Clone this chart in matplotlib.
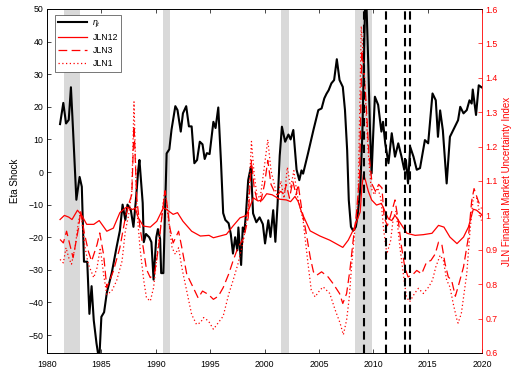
import numpy as np
import matplotlib
matplotlib.use('Agg')
import matplotlib.pyplot as plt

plt.rcParams['font.family'] = ['Liberation Sans', 'DejaVu Sans']
plt.rcParams['mathtext.fontset'] = 'custom'
plt.rcParams['mathtext.it'] = 'Liberation Sans:italic'

# eta shock (left axis)
eta_year = [1981.2, 1981.5, 1981.75, 1982.0, 1982.2, 1982.4, 1982.7, 1983.0, 1983.2, 1983.4,
            1983.7, 1983.9, 1984.1, 1984.3, 1984.55, 1984.8, 1985.0, 1985.25, 1985.5, 1985.95,
            1986.4, 1986.7, 1986.95, 1987.2, 1987.4, 1987.7, 1987.95, 1988.2, 1988.4, 1988.5,
            1988.8, 1988.9, 1989.1, 1989.4, 1989.6, 1989.8, 1990.05, 1990.2, 1990.4, 1990.5,
            1990.7, 1991.0, 1991.25, 1991.45, 1991.8, 1992.0, 1992.3, 1992.5, 1992.8, 1993.05,
            1993.3, 1993.55, 1993.8, 1994.05, 1994.3, 1994.5, 1994.7, 1994.95, 1995.3, 1995.5,
            1995.75, 1996.0, 1996.2, 1996.4, 1996.7, 1996.9, 1997.1, 1997.3, 1997.5, 1997.6,
            1997.85, 1998.0, 1998.15, 1998.3, 1998.5, 1998.75, 1998.95, 1999.25, 1999.55, 1999.85,
            2000.05, 2000.35, 2000.55, 2000.8, 2001.0, 2001.2, 2001.4, 2001.6, 2001.9, 2002.2,
            2002.4, 2002.65, 2002.95, 2003.2, 2003.4, 2003.55, 2004.0, 2004.5, 2004.95, 2005.25,
            2005.5, 2005.7, 2005.9, 2006.15, 2006.4, 2006.65, 2006.9, 2007.2, 2007.4, 2007.6,
            2007.75, 2007.95, 2008.15, 2008.4, 2008.55, 2008.8, 2009.0, 2009.2, 2009.3, 2009.55,
            2009.7, 2009.85, 2010.0, 2010.15, 2010.45, 2010.75, 2010.9, 2011.1, 2011.4, 2011.7,
            2012.0, 2012.3, 2012.6, 2012.85, 2013.0, 2013.2, 2013.4, 2013.7, 2014.0, 2014.3,
            2014.75, 2015.05, 2015.45, 2015.75, 2015.95, 2016.15, 2016.4, 2016.75, 2017.05, 2017.5,
            2017.8, 2018.0, 2018.3, 2018.6, 2018.85, 2019.05, 2019.15, 2019.45, 2019.7, 2019.95]
eta = [14.7, 21.2, 14.9, 16.0, 26.0, 12.5, -8.5, -1.5, -4.5, -27.5,
       -27.5, -43.5, -35.0, -45.5, -52.5, -58.0, -44.4, -43.0, -37.0, -31.0,
       -23.0, -18.0, -10.0, -14.7, -10.0, -11.5, -16.8, -7.6, 1.0, 3.7,
       -9.5, -21.5, -19.0, -20.0, -21.5, -33.0, -20.0, -17.5, -20.5, -31.0,
       -31.0, 5.7, 7.0, 13.0, 20.2, 19.0, 12.4, 18.0, 20.2, 14.0,
       14.0, 2.7, 3.7, 9.3, 8.5, 4.0, 5.8, 5.5, 15.4, 13.5,
       19.8, 3.0, -12.6, -14.7, -15.7, -19.0, -25.0, -20.0, -24.0, -17.0,
       -28.5, -17.0, -18.3, -12.6, -2.5, 1.6, -12.7, -15.4, -13.9, -16.0,
       -21.9, -14.8, -19.9, -11.7, -21.4, -10.0, 5.0, 13.9, 9.3, 11.5,
       10.0, 12.9, 0.7, -2.5, 0.5, -0.5, 5.7, 12.9, 19.0, 19.5,
       22.6, 24.0, 25.1, 27.2, 28.2, 34.6, 28.2, 26.1, 19.0, 6.7,
       -8.6, -16.8, -18.0, -16.8, -13.6, -5.5, 11.9, 42.6, 60.0, 32.3,
       13.0, -0.4, 11.9, 23.1, 20.6, 12.4, 15.4, 8.8, 2.7, 11.9,
       4.7, 8.8, 4.7, 0.7, 3.7, -3.5, 7.7, 4.7, 0.7, 1.2,
       9.8, 8.8, 24.1, 22.0, 10.8, 18.9, 12.8, -3.5, 10.8, 13.9,
       15.9, 20.0, 18.0, 19.0, 22.0, 21.0, 25.3, 17.5, 26.6, 26.0]

# JLN uncertainty, 12 month horizon (right axis)
jln12_year = [1981.2, 1981.6, 1982.0, 1982.3, 1982.8, 1983.2, 1983.65, 1984.3, 1984.8, 1985.5,
              1986.1, 1986.7, 1987.3, 1987.9, 1988.1, 1988.4, 1988.85, 1989.5, 1990.1, 1990.7,
              1991.0, 1991.6, 1992.0, 1992.5, 1993.3, 1994.1, 1994.9, 1995.3, 1995.9, 1996.5,
              1997.1, 1997.75, 1998.35, 1998.97, 1999.4, 1999.8, 2000.2, 2000.7, 2001.4, 2002.0,
              2002.4, 2002.8, 2003.1, 2003.4, 2004.2, 2005.1, 2006.0, 2007.2, 2007.7, 2008.2,
              2008.5, 2008.8, 2008.95, 2009.1, 2009.3, 2009.55, 2009.85, 2010.3, 2010.75, 2011.1,
              2011.4, 2011.7, 2012.0, 2012.5, 2013.1, 2013.85, 2014.6, 2015.4, 2016.0, 2016.5,
              2017.05, 2017.7, 2018.3, 2018.75, 2019.2, 2019.5, 2019.95]
jln12 = [0.988, 1.000, 0.995, 0.988, 1.015, 1.000, 0.974, 0.974, 0.985, 0.954,
         0.963, 1.008, 1.024, 1.017, 1.022, 0.993, 0.969, 0.966, 0.983, 1.022,
         1.017, 1.003, 1.008, 0.983, 0.954, 0.940, 0.942, 0.935, 0.940, 0.945,
         0.969, 0.993, 1.000, 1.051, 1.042, 1.045, 1.063, 1.060, 1.047, 1.045,
         1.040, 1.055, 1.040, 1.010, 0.955, 0.940, 0.928, 0.907, 0.928, 0.960,
         0.985, 1.010, 1.080, 1.120, 1.100, 1.070, 1.045, 1.030, 1.035, 1.010,
         0.990, 0.985, 1.000, 0.977, 0.948, 0.942, 0.944, 0.948, 0.971, 0.966,
         0.937, 0.918, 0.937, 0.966, 1.018, 1.015, 1.003]

# 3 month horizon
jln3_year = [1981.2, 1981.5, 1981.8, 1982.1, 1982.4, 1982.9, 1983.1, 1983.4, 1983.8, 1984.1,
             1984.6, 1984.85, 1985.2, 1985.5, 1986.1, 1986.7, 1987.2, 1987.5, 1987.8, 1988.0,
             1988.25, 1988.55, 1988.85, 1989.15, 1989.5, 1989.9, 1990.25, 1990.55, 1990.85, 1991.0,
             1991.3, 1991.6, 1992.1, 1992.4, 1992.85, 1993.45, 1993.9, 1994.3, 1994.85, 1995.3,
             1995.75, 1996.2, 1996.7, 1997.1, 1997.55, 1998.1, 1998.5, 1998.8, 1999.05, 1999.35,
             1999.65, 2000.0, 2000.3, 2000.6, 2000.9, 2001.2, 2001.5, 2001.8, 2002.0, 2002.3,
             2002.6, 2002.9, 2003.1, 2003.4, 2003.85, 2004.2, 2004.5, 2004.8, 2005.25, 2005.85,
             2006.3, 2006.9, 2007.2, 2007.55, 2007.85, 2008.15, 2008.45, 2008.75, 2008.95, 2009.3,
             2009.6, 2009.9, 2010.2, 2010.5, 2010.8, 2011.0, 2011.3, 2011.6, 2012.0, 2012.3,
             2012.6, 2012.9, 2013.2, 2013.7, 2014.0, 2014.45, 2014.9, 2015.3, 2015.7, 2016.0,
             2016.3, 2016.6, 2016.9, 2017.2, 2017.55, 2017.8, 2018.3, 2018.75, 2019.05, 2019.27,
             2019.65, 2019.95]
jln3 = [0.930, 0.920, 0.954, 0.915, 0.877, 0.964, 1.012, 0.954, 0.896, 0.867,
        0.915, 0.949, 0.887, 0.790, 0.838, 0.906, 0.993, 1.032, 1.061, 1.260,
        1.052, 0.964, 0.906, 0.843, 0.819, 0.833, 0.906, 0.993, 1.071, 1.042,
        0.964, 0.920, 0.954, 0.906, 0.829, 0.790, 0.760, 0.780, 0.770, 0.756,
        0.765, 0.790, 0.829, 0.867, 0.906, 0.935, 0.993, 1.160, 1.080, 1.040,
        1.040, 1.090, 1.160, 1.090, 1.070, 1.060, 1.070, 1.060, 1.090, 1.050,
        1.100, 1.060, 1.090, 1.023, 0.946, 0.879, 0.836, 0.826, 0.836, 0.821,
        0.802, 0.773, 0.744, 0.773, 0.840, 0.927, 1.004, 1.120, 1.480, 1.350,
        1.180, 1.090, 1.070, 1.090, 1.080, 0.994, 0.970, 1.000, 1.045, 0.985,
        0.908, 0.850, 0.821, 0.830, 0.840, 0.830, 0.864, 0.869, 0.888, 0.922,
        0.917, 0.860, 0.821, 0.812, 0.765, 0.792, 0.850, 0.937, 1.042, 1.078,
        1.042, 1.020]

# 1 month horizon
jln1_year = [1981.2, 1981.5, 1981.75, 1982.0, 1982.25, 1982.6, 1982.9, 1983.1, 1983.5, 1983.8,
             1984.3, 1984.6, 1984.9, 1985.2, 1985.5, 1985.95, 1986.4, 1986.9, 1987.2, 1987.5,
             1987.8, 1988.0, 1988.25, 1988.55, 1988.9, 1989.15, 1989.5, 1989.8, 1990.1, 1990.4,
             1990.7, 1990.85, 1991.15, 1991.5, 1991.8, 1992.1, 1992.4, 1992.85, 1993.3, 1993.75,
             1994.1, 1994.4, 1994.85, 1995.3, 1995.75, 1996.2, 1996.7, 1997.1, 1997.55, 1998.05,
             1998.5, 1998.8, 1999.05, 1999.3, 1999.6, 1999.9, 2000.3, 2000.6, 2000.9, 2001.2,
             2001.5, 2001.8, 2002.1, 2002.4, 2002.7, 2003.0, 2003.3, 2003.55, 2004.0, 2004.3,
             2004.65, 2005.1, 2005.4, 2006.0, 2006.5, 2006.95, 2007.25, 2007.55, 2007.8, 2008.0,
             2008.3, 2008.6, 2008.9, 2009.2, 2009.5, 2009.8, 2010.1, 2010.4, 2010.7, 2010.95,
             2011.25, 2011.6, 2011.85, 2012.1, 2012.45, 2012.8, 2013.05, 2013.35, 2013.8, 2014.15,
             2014.6, 2015.1, 2015.45, 2015.75, 2016.15, 2016.45, 2016.75, 2017.05, 2017.35, 2017.7,
             2017.8, 2018.1, 2018.6, 2018.9, 2019.2, 2019.5, 2019.8, 2019.95]
jln1 = [0.872, 0.862, 0.906, 0.877, 0.858, 0.910, 0.983, 1.012, 0.906, 0.858,
        0.819, 0.848, 0.906, 0.829, 0.770, 0.780, 0.810, 0.867, 0.954, 1.000,
        1.071, 1.330, 1.022, 0.906, 0.810, 0.760, 0.751, 0.790, 0.877, 0.954,
        1.042, 1.075, 0.993, 0.906, 0.887, 0.906, 0.848, 0.780, 0.712, 0.683,
        0.688, 0.703, 0.693, 0.669, 0.688, 0.707, 0.770, 0.810, 0.858, 0.925,
        1.022, 1.215, 1.120, 1.060, 1.050, 1.120, 1.220, 1.130, 1.090, 1.050,
        1.100, 1.050, 1.140, 1.080, 1.130, 1.060, 1.020, 0.985, 0.860, 0.783,
        0.763, 0.783, 0.792, 0.773, 0.725, 0.687, 0.653, 0.696, 0.763, 0.850,
        0.956, 1.042, 1.550, 1.400, 1.200, 1.080, 1.060, 1.080, 1.050, 0.960,
        0.888, 0.927, 0.994, 1.013, 0.908, 0.821, 0.763, 0.749, 0.773, 0.788,
        0.773, 0.792, 0.812, 0.850, 0.884, 0.869, 0.812, 0.792, 0.744, 0.696,
        0.687, 0.715, 0.831, 0.956, 1.052, 1.052, 1.004, 0.985]

# recession periods and event dates
recessions = [(1981.6, 1983.05), (1990.65, 1991.35), (2001.5, 2002.25), (2008.3, 2009.85)]
events = [2009.17, 2011.15, 2012.95, 2013.4]

red = '#ff0000'

fig = plt.figure(figsize=(5.17, 3.73), dpi=100)
ax = fig.add_axes([47 / 517, 20 / 373, 435 / 517, 344 / 373])
ax2 = ax.twinx()

for r0, r1 in recessions:
    ax.axvspan(r0, r1, color='#d9d9d9', lw=0, zorder=0)

eta_line, = ax.plot(eta_year, eta, color='k', lw=1.5, zorder=3)

l12, = ax2.plot(jln12_year, jln12, color=red, lw=0.9)
l3, = ax2.plot(jln3_year, jln3, color=red, lw=0.9, dashes=(7, 3.5))
l1, = ax2.plot(jln1_year, jln1, color=red, lw=0.9, dashes=(1, 2))

for e in events:
    ax2.axvline(e, color='k', lw=1.5, dashes=(4, 2.4), zorder=4)

ax.set_xlim(1980, 2020)
ax.set_ylim(-55.5, 50)
ax2.set_ylim(0.6, 1.6)
ax.set_xticks(np.arange(1980, 2021, 5))
ax.set_yticks(np.arange(-50, 51, 10))
ax2.set_yticks(np.arange(0.6, 1.61, 0.1))
ax2.set_yticklabels(['0.6', '0.7', '0.8', '0.9', '1', '1.1', '1.2', '1.3', '1.4', '1.5', '1.6'])

ax.tick_params(direction='in', length=3, width=0.5, labelsize=6.3, top=True, right=False, pad=2.5)
ax.tick_params(axis='x', pad=5)
ax2.tick_params(direction='in', length=3, width=0.5, labelsize=6.3, colors=red, pad=2.5)
ax.spines['right'].set_visible(False)
for s in ['left', 'top', 'bottom']:
    ax.spines[s].set_linewidth(0.6)
    ax2.spines[s].set_linewidth(0.6)
ax2.spines['right'].set_color(red)
ax2.spines['right'].set_linewidth(0.6)

ax.set_ylabel('Eta Shock', fontsize=7, labelpad=6)
ax2.set_ylabel('JLN Financial Market Uncertainty Index', fontsize=7, color=red, labelpad=3)

leg = ax2.legend([eta_line, l12, l3, l1], [r'$\eta_t$', 'JLN12', 'JLN3', 'JLN1'],
                 loc='upper left', bbox_to_anchor=(0.018, 0.983), borderaxespad=0,
                 fontsize=6.3, handlelength=3.3, labelspacing=0.45, fancybox=False,
                 framealpha=1, edgecolor='#404040', borderpad=0.4, handletextpad=0.6)
leg.get_frame().set_linewidth(0.5)

fig.savefig('out.png', dpi=100)
